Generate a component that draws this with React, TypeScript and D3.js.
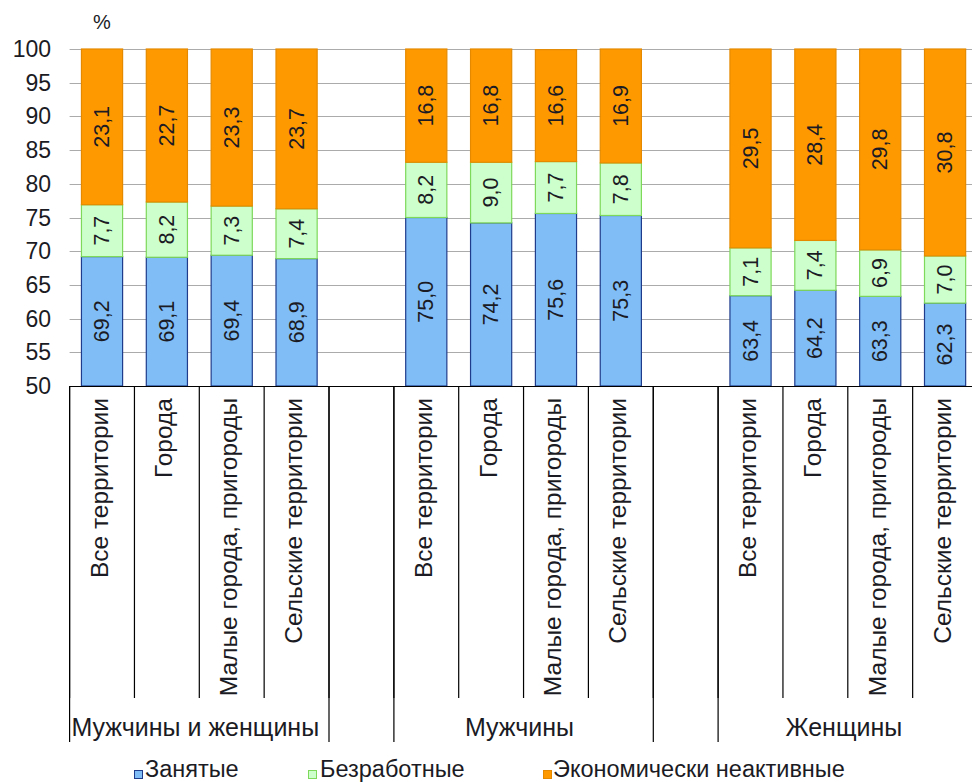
import React from "react";
import * as d3 from "d3";

const groups = ["Мужчины и женщины", "Мужчины", "Женщины"];
const territories = ["Все территории", "Города", "Малые города, пригороды", "Сельские территории"];
const seriesNames = ["Занятые", "Безработные", "Экономически неактивные"];
const employed = [69.2, 69.1, 69.4, 68.9, 75.0, 74.2, 75.6, 75.3, 63.4, 64.2, 63.3, 62.3];
const unemployed = [7.7, 8.2, 7.3, 7.4, 8.2, 9.0, 7.7, 7.8, 7.1, 7.4, 6.9, 7.0];
const inactive = [23.1, 22.7, 23.3, 23.7, 16.8, 16.8, 16.6, 16.9, 29.5, 28.4, 29.8, 30.8];
const yTicks = [50, 55, 60, 65, 70, 75, 80, 85, 90, 95, 100];
const unitLabel = "%";

const fills = ["#80BDF7", "#CCFFCC", "#FF9900"];
const strokes = ["#1F3C8C", "#7ED85A", "#E58A00"];
const FONT = "'Liberation Sans', Arial, sans-serif";
const TEXT = "#1b1b24";

type Slot = { id: string; group: number; cat: number; idx: number };

const slots: Slot[] = [];
let dataIdx = 0;
groups.forEach((g, gi) => {
  territories.forEach((t, ti) => {
    slots.push({ id: `${gi}-${ti}`, group: gi, cat: ti, idx: dataIdx++ });
  });
  if (gi < groups.length - 1) slots.push({ id: `blank-${gi}`, group: -1, cat: -1, idx: -1 });
});

const rows = employed.map((e, i) => ({ e, u: unemployed[i], n: inactive[i] }));
const stack = d3.stack<any>().keys(["e", "u", "n"]);
const stacked = stack(rows);

export default function App() {
  const W = 972, H = 782;
  const plotTop = 49, plotBottom = 386;
  const x0 = 69.6, x1 = 977.5;
  const leafBottom = 698, groupBottom = 742;

  const y = d3.scaleLinear().domain([50, 100]).range([plotBottom, plotTop]);
  const x = d3.scaleBand<string>().domain(slots.map((s) => s.id)).range([x0, x1]).paddingInner(0.35).paddingOuter(0.175);
  const step = x.step();
  const slotLeft = (id: string) => (x(id) as number) - step * 0.175;

  const dataSlots = slots.filter((s) => s.idx >= 0);
  const fmt = (v: number) => v.toFixed(1).replace(".", ",");

  const boundaries: number[] = [];
  slots.forEach((s, i) => {
    const prev = i > 0 ? slots[i - 1] : null;
    if (!prev || prev.group !== s.group || s.group === -1) boundaries.push(slotLeft(s.id));
  });
  boundaries.push(x1);
  const uniq = Array.from(new Set(boundaries.map((b) => Math.round(b * 10) / 10)));

  const legendItems = [
    { sq: 134, tx: 145 },
    { sq: 308, tx: 320 },
    { sq: 543, tx: 553 },
  ];

  return (
    <div style={{ position: "absolute", left: 0, top: 0 }}>
      <svg width={W} height={H} style={{ display: "block", background: "#fff" }} fontFamily={FONT}>
        {yTicks.filter((t) => t > 50).map((t) => (
          <line key={t} x1={x0} x2={W} y1={Math.round(y(t)) + 0.5} y2={Math.round(y(t)) + 0.5} stroke="#ababab" strokeWidth={1} />
        ))}
        {yTicks.map((t) => (
          <text key={t} x={51} y={y(t)} textAnchor="end" dominantBaseline="central" fontSize={23} fill={TEXT}>
            {t}
          </text>
        ))}
        <text x={102} y={22} textAnchor="middle" dominantBaseline="central" fontSize={20} fill={TEXT}>
          {unitLabel}
        </text>
        {stacked.map((layer, li) =>
          dataSlots.map((s) => {
            const d = layer[s.idx];
            const lo = Math.max(50, d[0]);
            const hi = Math.min(100, d[1]);
            const bx = x(s.id) as number;
            return (
              <rect
                key={`${li}-${s.id}`}
                x={bx + 0.5}
                y={y(hi)}
                width={x.bandwidth() - 1}
                height={y(lo) - y(hi)}
                fill={fills[li]}
                stroke={strokes[li]}
                strokeWidth={1.2}
              />
            );
          })
        )}
        {stacked.map((layer, li) =>
          dataSlots.map((s) => {
            const d = layer[s.idx];
            const lo = Math.max(50, d[0]);
            const hi = Math.min(100, d[1]);
            const cx = (x(s.id) as number) + x.bandwidth() / 2;
            const cy = y((lo + hi) / 2);
            const v = [employed, unemployed, inactive][li][s.idx];
            return (
              <text
                key={`l${li}-${s.id}`}
                transform={`translate(${cx},${cy}) rotate(-90)`}
                textAnchor="middle"
                dominantBaseline="central"
                fontSize={21.5}
                fill={TEXT}
              >
                {fmt(v)}
              </text>
            );
          })
        )}
        <line x1={x0} x2={W} y1={plotBottom + 0.5} y2={plotBottom + 0.5} stroke="#000" strokeWidth={1.2} />
        {slots.map((s) => (
          <line key={`sep-${s.id}`} x1={slotLeft(s.id)} x2={slotLeft(s.id)} y1={plotBottom} y2={leafBottom} stroke="#000" strokeWidth={1.2} />
        ))}
        {uniq.map((b) => (
          <line key={`g-${b}`} x1={b} x2={b} y1={plotBottom} y2={groupBottom} stroke="#000" strokeWidth={1.2} />
        ))}
        {dataSlots.map((s) => (
          <text
            key={`leaf-${s.id}`}
            transform={`translate(${(x(s.id) as number) + x.bandwidth() / 2 - 3},${398}) rotate(-90)`}
            textAnchor="end"
            dominantBaseline="central"
            fontSize={24.5}
            fill={TEXT}
          >
            {territories[s.cat]}
          </text>
        ))}
        {groups.map((g, gi) => {
          const ids = slots.filter((s) => s.group === gi).map((s) => s.id);
          const left = slotLeft(ids[0]);
          const right = slotLeft(ids[ids.length - 1]) + step;
          return (
            <text key={g} x={(left + right) / 2 - 4} y={727} textAnchor="middle" dominantBaseline="central" fontSize={25} fill={TEXT}>
              {g}
            </text>
          );
        })}
        {seriesNames.map((n, i) => (
          <g key={n}>
            <rect x={legendItems[i].sq + 0.5} y={770.5} width={8} height={8} fill={fills[i]} stroke={strokes[i]} strokeWidth={1} />
            <text x={legendItems[i].tx} y={777} fontSize={23.5} fill={TEXT}>
              {n}
            </text>
          </g>
        ))}
      </svg>
    </div>
  );
}
